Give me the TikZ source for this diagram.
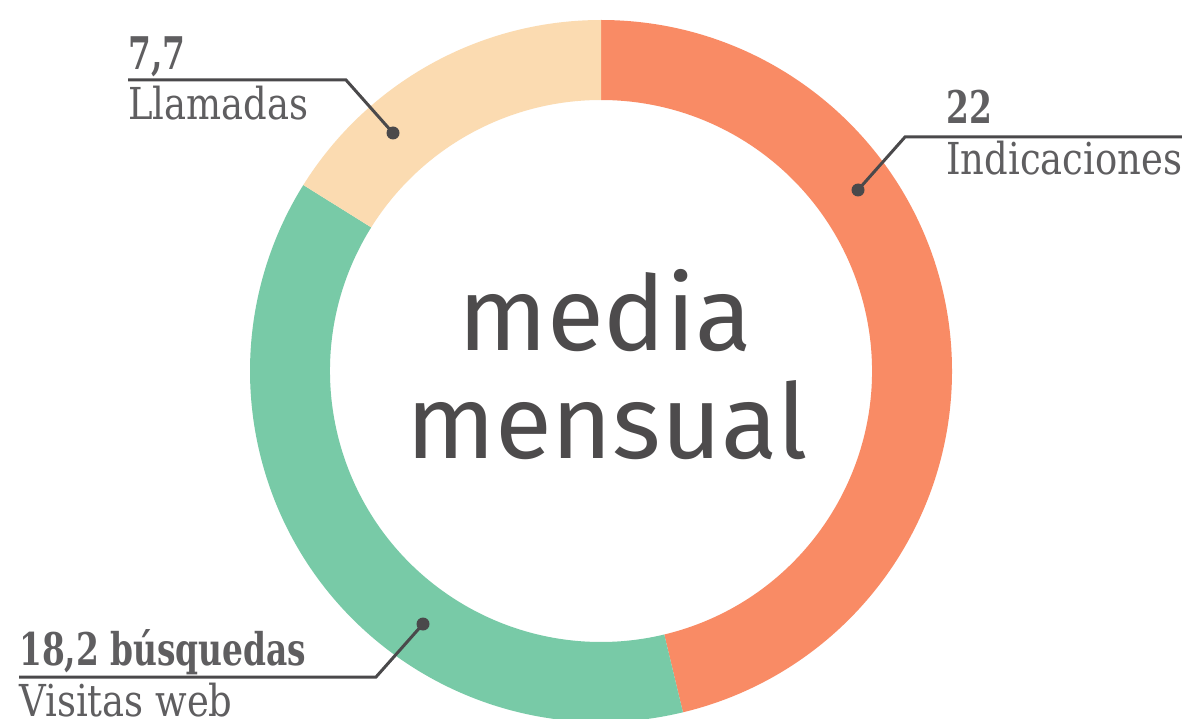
\documentclass[tikz,border=0pt]{standalone}
\usepackage{fontspec}
\setmainfont[FakeStretch=0.84,BoldFeatures={FakeStretch=0.73}]{DejaVu Serif}
\newfontfamily\centerfont{Fira Sans}
\definecolor{segorange}{HTML}{F98B65}
\definecolor{seggreen}{HTML}{78CAA7}
\definecolor{segpeach}{HTML}{FBDBB1}
\definecolor{labelgray}{HTML}{5F5E60}
\definecolor{centergray}{HTML}{4D4B4C}
\definecolor{leadergray}{HTML}{4A494B}
\begin{document}
\begin{tikzpicture}[x=1pt,y=-1pt,
  dotmark/.style={circle,fill=leadergray,inner sep=0pt,minimum size=13pt},
  leader/.style={draw=leadergray,line width=3pt},
  numtext/.style={anchor=base west,inner sep=0pt,text=labelgray,font=\fontsize{45}{45}\selectfont\bfseries},
  cattext/.style={anchor=base west,inner sep=0pt,text=labelgray,font=\fontsize{44}{44}\selectfont},
  bigtext/.style={anchor=base,inner sep=0pt,text=centergray,font=\centerfont\fontsize{104}{104}\selectfont}]
\useasboundingbox (0,0) rectangle (1182,719);
\fill[white] (0,0) rectangle (1182,719);
% donut
\begin{scope}[shift={(601,371)}]
  \fill[segorange] (-90:351) arc[start angle=-90,end angle=76.5,radius=351] -- (76.5:271) arc[start angle=76.5,end angle=-90,radius=271] -- cycle;
  \fill[seggreen] (76.5:351) arc[start angle=76.5,end angle=212,radius=351] -- (212:271) arc[start angle=212,end angle=76.5,radius=271] -- cycle;
  \fill[segpeach] (212:351) arc[start angle=212,end angle=270,radius=351] -- (270:271) arc[start angle=270,end angle=212,radius=271] -- cycle;
\end{scope}
% centre text
\node[bigtext] (media) at (605,350) {media};
\node[bigtext] (mensual) at (607,458) {mensual};
% labels
\node[numtext] (n77) at (128,70) {7,7};
\node[cattext] (llam) at (128,120) {Llamadas};
\node[numtext] (n22) at (946,124) {22};
\node[cattext] (indic) at (946,175) {Indicaciones};
\node[numtext] (n182) at (19,665) {18,2 búsquedas};
\node[cattext] (visit) at (19,716) {Visitas web};
% leaders
\node[dotmark] (dotL) at (393,133) {};
\node[dotmark] (dotI) at (858,190) {};
\node[dotmark] (dotV) at (423,624) {};
\coordinate (elbowL) at (346,80);
\coordinate (endL) at (128,80);
\coordinate (elbowI) at (905,137);
\coordinate (endI) at (1182,137);
\coordinate (elbowV) at (376,677);
\coordinate (endV) at (19,677);
\draw[leader] (dotL.center) -- (elbowL) -- (endL);
\draw[leader] (dotI.center) -- (elbowI) -- (endI);
\draw[leader] (dotV.center) -- (elbowV) -- (endV);
\end{tikzpicture}
\end{document}
